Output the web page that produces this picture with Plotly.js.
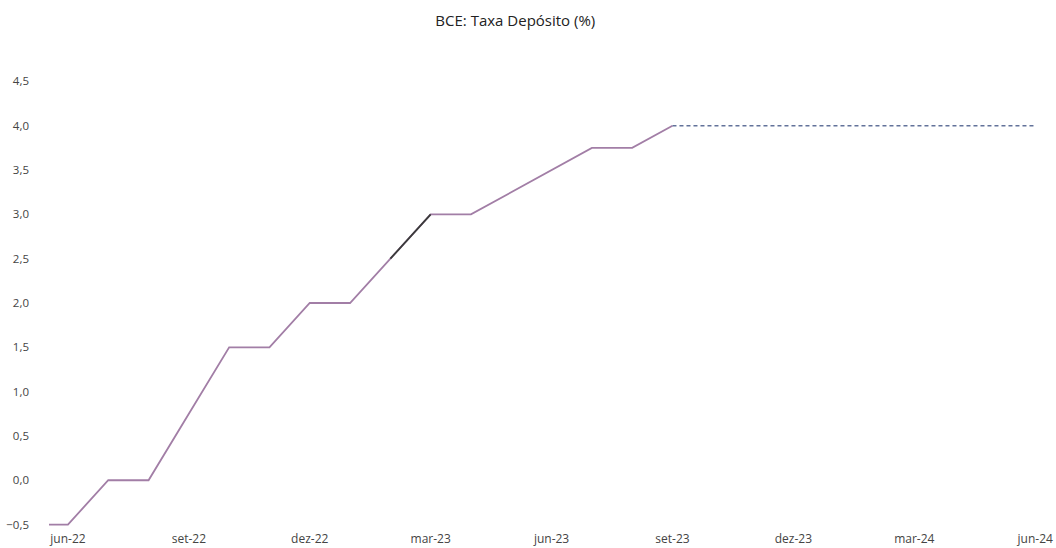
<!DOCTYPE html>
<html>
<head>
<meta charset="utf-8">
<script src="https://cdn.plot.ly/plotly-3.0.1.min.js"></script>
<style>html,body{margin:0;padding:0;background:#fff;}#chart{width:1056px;height:548px;}</style>
</head>
<body>
<div id="chart"></div>
<script>
// Month index 0 = jun-22
const months = ['mai-22','jun-22','jul-22','ago-22','set-22','out-22','nov-22','dez-22','jan-23','fev-23','mar-23','abr-23','mai-23','jun-23','jul-23','ago-23','set-23'];
const monthIdx = [-1,0,1,2,3,4,5,6,7,8,9,10,11,12,13,14,15];
const rateActual = [-0.5,-0.5,0.0,0.0,0.75,1.5,1.5,2.0,2.0,2.5,3.0,3.0,3.25,3.5,3.75,3.75,4.0];
const highlightIdx = [8,9];          // fev-23 -> mar-23 dark segment
const highlightVals = [2.5,3.0];
const forecastIdx = [15,16,17,18,19,20,21,22,23,24];
const forecastVals = [4.0,4.0,4.0,4.0,4.0,4.0,4.0,4.0,4.0,4.0];
const tickIdx = [0,3,6,9,12,15,18,21,24];
const tickLabels = ['jun-22','set-22','dez-22','mar-23','jun-23','set-23','dez-23','mar-24','jun-24'];

const traces = [
  {x: monthIdx, y: rateActual, type:'scatter', mode:'lines', line:{color:'#a27ea6', width:1.8}, hoverinfo:'skip'},
  {x: highlightIdx, y: highlightVals, type:'scatter', mode:'lines', line:{color:'#3a3a3a', width:1.8}, hoverinfo:'skip'},
  {x: forecastIdx, y: forecastVals, type:'scatter', mode:'lines', line:{color:'#62729a', width:1.5, dash:'4px,3px'}, hoverinfo:'skip'}
];
const layout = {
  width:1056, height:548,
  paper_bgcolor:'#ffffff', plot_bgcolor:'#ffffff',
  showlegend:false,
  separators:', ',
  margin:{l:49, r:20, t:77, b:19},
  font:{family:'"Open Sans", "DejaVu Sans", sans-serif', color:'#555', size:12},
  title:{text:'BCE: Taxa Depósito (%)', x:0.488, xref:'container', xanchor:'center', y:0.963, yref:'container', yanchor:'middle', font:{size:15, color:'#222'}},
  xaxis:{range:[-0.47,24.02], tickvals:tickIdx, ticktext:tickLabels, showgrid:false, zeroline:false, showline:false, ticks:'', tickfont:{size:12, color:'#444'}, ticklabelstandoff:1},
  yaxis:{range:[-0.55,4.55], tick0:-0.5, dtick:0.5, tickformat:'.1f', showgrid:false, zeroline:false, showline:false, ticks:'', tickfont:{size:11.5, color:'#444'}, ticklabelstandoff:19}
};
Plotly.newPlot('chart', traces, layout, {displayModeBar:false, staticPlot:true});
</script>
</body>
</html>
